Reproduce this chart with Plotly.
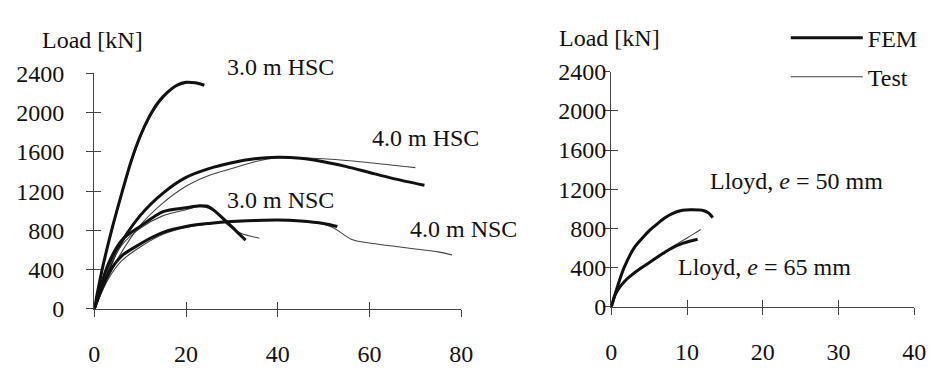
import plotly.graph_objects as go

# ---------- data ----------
# Left panel: deflection [mm] vs load [kN]
hsc30_fem_x = [0, 1, 2, 4, 6, 8, 10, 12, 14, 16, 18, 20, 22, 24]
hsc30_fem_y = [0, 240, 460, 840, 1180, 1500, 1760, 1960, 2110, 2210, 2280, 2310, 2305, 2280]
hsc30_test_x = [0, 1, 2, 4, 6, 8, 10, 12, 14, 16, 18, 20, 21, 23]
hsc30_test_y = [0, 220, 440, 820, 1160, 1480, 1740, 1940, 2090, 2200, 2270, 2300, 2310, 2290]

hsc40_fem_x = [0, 5, 10, 15, 20, 25, 30, 35, 40, 45, 50, 55, 60, 65, 72]
hsc40_fem_y = [0, 600, 950, 1180, 1340, 1430, 1490, 1530, 1545, 1535, 1500, 1450, 1390, 1330, 1260]
hsc40_test_x = [0, 5, 10, 15, 20, 25, 30, 35, 40, 50, 60, 70]
hsc40_test_y = [0, 500, 850, 1080, 1250, 1360, 1430, 1500, 1540, 1530, 1490, 1440]

nsc30_fem_x = [0, 3, 6, 10, 15, 20, 23, 25, 28.5, 31, 33]
nsc30_fem_y = [0, 450, 700, 840, 990, 1030, 1050, 1040, 905, 790, 700]
nsc30_test_x = [0, 3, 6, 10, 15, 20, 23, 26, 29, 32, 36]
nsc30_test_y = [0, 400, 650, 820, 950, 1010, 1040, 1000, 860, 770, 720]

nsc40_fem_x = [0, 3, 6, 10, 12, 15, 20, 25, 30, 35, 40, 45, 50, 53]
nsc40_fem_y = [0, 350, 540, 660, 714, 780, 840, 870, 890, 900, 905, 895, 870, 840]
nsc40_test_x = [0, 3, 6, 10, 15, 20, 25, 30, 40, 48, 52, 56, 60, 65, 70, 75, 78]
nsc40_test_y = [0, 300, 490, 630, 760, 830, 865, 885, 900, 880, 830, 710, 670, 640, 610, 580, 550]

# Right panel: Lloyd tests
e50_fem_x = [0, 1, 1.7, 3, 4.2, 5.2, 6.2, 7.1, 8, 9.4, 10.5, 12, 12.8, 13.4]
e50_fem_y = [0, 250, 400, 600, 710, 790, 855, 910, 950, 985, 990, 985, 960, 910]
e50_test_x = [0, 1, 1.7, 3, 4.2, 5.2, 6.2, 7.1, 8, 9.4, 10.5, 11.2]
e50_test_y = [0, 240, 390, 590, 700, 785, 850, 905, 945, 980, 995, 990]

e65_fem_x = [0, 0.5, 1, 2, 3, 4, 5, 6.5, 8, 9.5, 11.4]
e65_fem_y = [0, 120, 190, 280, 345, 400, 450, 530, 600, 650, 690]
e65_test_x = [0, 0.5, 1, 2, 3, 4, 5, 6.5, 8, 9.5, 11, 11.8]
e65_test_y = [0, 110, 180, 270, 335, 395, 450, 530, 610, 680, 750, 790]

left_xticks = [0, 20, 40, 60, 80]
right_xticks = [0, 10, 20, 30, 40]
yticks = [0, 400, 800, 1200, 1600, 2000, 2400]

FONT = "Liberation Serif, Times New Roman, serif"
FS = 24
FEM_STYLE = dict(color="#111111", width=3)
TEST_STYLE = dict(color="#444444", width=1.1)

fig = go.Figure()

left_pairs = [
    (hsc30_fem_x, hsc30_fem_y, hsc30_test_x, hsc30_test_y),
    (hsc40_fem_x, hsc40_fem_y, hsc40_test_x, hsc40_test_y),
    (nsc30_fem_x, nsc30_fem_y, nsc30_test_x, nsc30_test_y),
    (nsc40_fem_x, nsc40_fem_y, nsc40_test_x, nsc40_test_y),
]
right_pairs = [
    (e50_fem_x, e50_fem_y, e50_test_x, e50_test_y),
    (e65_fem_x, e65_fem_y, e65_test_x, e65_test_y),
]

for fx, fy, tx, ty in left_pairs:
    fig.add_trace(go.Scatter(x=tx, y=ty, mode="lines", line=dict(**TEST_STYLE, shape="spline", smoothing=0.8),
                             xaxis="x", yaxis="y", showlegend=False))
    fig.add_trace(go.Scatter(x=fx, y=fy, mode="lines", line=dict(**FEM_STYLE, shape="spline", smoothing=0.8),
                             xaxis="x", yaxis="y", showlegend=False))
first = True
for fx, fy, tx, ty in right_pairs:
    fig.add_trace(go.Scatter(x=tx, y=ty, mode="lines", line=dict(**TEST_STYLE, shape="spline", smoothing=0.8),
                             xaxis="x2", yaxis="y2", name="Test", legend="legend2",
                             showlegend=first))
    fig.add_trace(go.Scatter(x=fx, y=fy, mode="lines", line=dict(**FEM_STYLE, shape="spline", smoothing=0.8),
                             xaxis="x2", yaxis="y2", name="FEM", legend="legend",
                             showlegend=first))
    first = False

LX = [90 / 943, 464 / 943]
LY = [(372 - 318) / 372, (372 - 65) / 372]
RX = [617 / 943, 926 / 943]
RY = [(372 - 316) / 372, (372 - 63) / 372]

tickfont = dict(family=FONT, size=FS, color="#111111")
axis_common = dict(showgrid=False, zeroline=False, showline=True, linecolor="#444444",
                   linewidth=1.3, ticks="outside", ticklen=7, tickwidth=1.3,
                   tickcolor="#444444", tickfont=tickfont)
inner_common = dict(showgrid=False, zeroline=False, showline=False, ticks="inside",
                    ticklen=7, tickwidth=1.3, tickcolor="#444444", showticklabels=False)

legfont = dict(family=FONT, size=FS, color="#111111")
fig.update_layout(
    width=943, height=372,
    margin=dict(l=0, r=0, t=0, b=0),
    paper_bgcolor="white", plot_bgcolor="white",
    xaxis=dict(domain=LX, range=[0, 80], tickvals=left_xticks, anchor="y",
               ticklabelstandoff=16, **axis_common),
    yaxis=dict(domain=LY, range=[0, 2400], tickvals=yticks, anchor="x",
               ticklabelstandoff=17, **axis_common),
    xaxis2=dict(domain=RX, range=[0, 40], tickvals=right_xticks, anchor="y2",
                ticklabelstandoff=16, **axis_common),
    yaxis2=dict(domain=RY, range=[0, 2400], tickvals=yticks, anchor="x2",
                ticklabelstandoff=-8, **axis_common),
    xaxis3=dict(overlaying="x", range=[0, 80], tickvals=left_xticks, anchor="y", **inner_common),
    yaxis3=dict(overlaying="y", range=[0, 2400], tickvals=yticks, anchor="x", **inner_common),
    xaxis4=dict(overlaying="x2", range=[0, 40], tickvals=right_xticks, anchor="y2", **inner_common),
    yaxis4=dict(overlaying="y2", range=[0, 2400], tickvals=yticks, anchor="x2", **inner_common),
    legend=dict(x=795 / 943, y=(372 - 27) / 372, xanchor="left", yanchor="middle",
                font=legfont, bgcolor="rgba(0,0,0,0)", itemwidth=72),
    legend2=dict(x=795 / 943, y=(372 - 69) / 372, xanchor="left", yanchor="middle",
                 font=legfont, bgcolor="rgba(0,0,0,0)", itemwidth=72),
    showlegend=True,
)

# dummy invisible traces so overlay axes are drawn
fig.add_trace(go.Scatter(x=[None], y=[None], xaxis="x3", yaxis="y3", showlegend=False, hoverinfo="skip"))
fig.add_trace(go.Scatter(x=[None], y=[None], xaxis="x4", yaxis="y4", showlegend=False, hoverinfo="skip"))

labfont = dict(family=FONT, size=FS, color="#111111")
annots = [
    dict(text="3.0 m HSC", x=280 / 943, y=(372 - 58) / 372, xref="paper", yref="paper"),
    dict(text="4.0 m HSC", x=72.3, y=1743, xref="x", yref="y"),
    dict(text="3.0 m NSC", x=40.6, y=1114, xref="x", yref="y"),
    dict(text="4.0 m NSC", x=466 / 943, y=(372 - 232) / 372, xref="paper", yref="paper"),
    dict(text="Lloyd, <i>e</i> = 50 mm", x=24.5, y=1289, xref="x2", yref="y2"),
    dict(text="Lloyd, <i>e</i> = 65 mm", x=20.2, y=408, xref="x2", yref="y2"),
    dict(text="Load [kN]", x=88 / 943, y=(372 - 29) / 372, xref="paper", yref="paper"),
    dict(text="Load [kN]", x=615 / 943, y=(372 - 27) / 372, xref="paper", yref="paper"),
]
for a in annots:
    fig.add_annotation(showarrow=False, font=labfont, xanchor="center", yanchor="middle", **a)

fig.write_html("out.html")
